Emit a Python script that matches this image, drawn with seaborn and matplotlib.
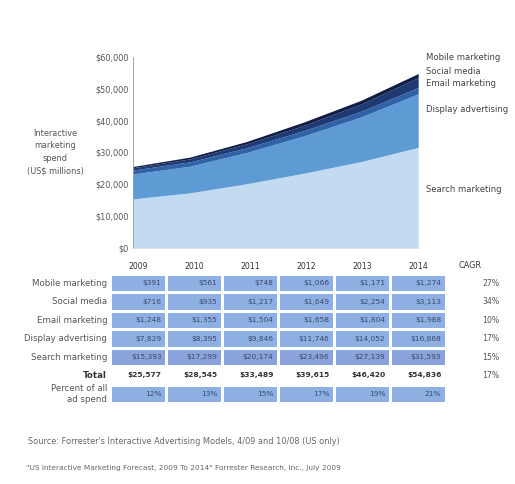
import matplotlib
matplotlib.use("Agg")
import matplotlib.pyplot as plt
import numpy as np
import pandas as pd
import seaborn as sns
from matplotlib.colors import ListedColormap

# ---- data (US$ millions) ---- #
years = [2009, 2010, 2011, 2012, 2013, 2014]
search = [15393, 17299, 20174, 23496, 27139, 31593]
display = [7829, 8395, 9846, 11746, 14052, 16868]
email = [1248, 1355, 1504, 1658, 1804, 1988]
social = [716, 935, 1217, 1649, 2254, 3113]
mobile = [391, 561, 748, 1066, 1171, 1274]
total = [25577, 28545, 33489, 39615, 46420, 54836]
pct_of_ad_spend = [12, 13, 15, 17, 19, 21]
cagr = ["27%", "34%", "10%", "17%", "15%", "17%"]

series_colors = ["#c3dbf1", "#5e9bd5", "#2f62a6", "#1f3a72", "#121d45"]
y_ticks = [0, 10000, 20000, 30000, 40000, 50000, 60000]

sns.set_theme(style="white")
plt.rcParams["font.family"] = ["DejaVu Sans"]
TXT = "#555555"

fig = plt.figure(figsize=(5.15, 4.84), dpi=100)
fig.patch.set_facecolor("white")

# ---- stacked area chart ---- #
ax = fig.add_axes([0.258, 0.488, 0.554, 0.394])
ax.stackplot(years, search, display, email, social, mobile,
             colors=series_colors, linewidth=0)
ax.set_xlim(2009, 2014)
ax.set_ylim(0, 60000)
ax.set_yticks(y_ticks)
ax.set_yticklabels([f"${v:,}" for v in y_ticks], fontsize=5.9, color=TXT)
ax.set_xticks([])
ax.tick_params(axis="y", length=0, pad=3)
for side in ["top", "right"]:
    ax.spines[side].set_visible(False)
ax.spines["left"].set_color("#999999")
ax.spines["left"].set_linewidth(0.6)
ax.spines["bottom"].set_color("#dddddd")
ax.spines["bottom"].set_linewidth(0.6)
ax.set_facecolor("white")

fig.text(55 / 515, 1 - 152 / 484, "Interactive\nmarketing\nspend\n(US$ millions)",
         ha="center", va="center", fontsize=5.9, color=TXT, linespacing=1.5)

right_labels = [("Mobile marketing", 58), ("Social media", 71),
                ("Email marketing", 84), ("Display advertising", 110),
                ("Search marketing", 190)]
for lbl, ypx in right_labels:
    fig.text(426 / 515, 1 - ypx / 484, lbl, ha="left", va="center",
             fontsize=6.1, color="#444444")

# ---- data table drawn as a heatmap ---- #
row_labels = ["Mobile marketing", "Social media", "Email marketing",
              "Display advertising", "Search marketing", "Total",
              "Percent of all\nad spend"]
rows = [mobile, social, email, display, search, total, pct_of_ad_spend]
annot = [[f"${v:,}" for v in r] for r in rows[:6]]
annot.append([f"{v}%" for v in pct_of_ad_spend])
annot = np.array(annot)
# colour code: 0 = table blue, 1 = search row blue, 2 = white (total row)
codes = pd.DataFrame([[0] * 6] * 4 + [[1] * 6] + [[2] * 6] + [[0] * 6],
                     index=row_labels, columns=years)

tax = fig.add_axes([0.2136, 0.167, 0.652, 0.267])
sns.heatmap(codes, ax=tax, cmap=ListedColormap(["#8eafe2", "#8aa3da", "#ffffff"]),
            vmin=-0.5, vmax=2.5, cbar=False, annot=annot, fmt="",
            annot_kws={"fontsize": 5.4, "color": "#3b4a6b", "ha": "right"},
            linewidths=1.0, linecolor="white")
# push annotations to the right edge of each cell
for t in tax.texts:
    x, y = t.get_position()
    t.set_position((x + 0.42, y))
for t in tax.texts[30:36]:
    t.set_color("#333333")
    t.set_fontweight("bold")

tax.xaxis.tick_top()
tax.set_xticklabels(years, fontsize=5.6, color="#333333")
tax.set_yticklabels(row_labels, fontsize=6.2, color=TXT, rotation=0)
tax.get_yticklabels()[5].set_fontweight("bold")
tax.get_yticklabels()[5].set_color("#333333")
tax.tick_params(length=0, pad=2)
tax.set_xlabel("")
tax.set_ylabel("")

# CAGR column
fig.text(470 / 515, 1 - 265 / 484, "CAGR", ha="center", va="center",
         fontsize=5.9, color="#333333")
for i, c in enumerate(cagr):
    tax.text(6.8, i + 0.5, c, ha="center", va="center", fontsize=5.6,
             color=TXT, clip_on=False)

# ---- source lines ---- #
fig.text(28 / 515, 1 - 441 / 484,
         "Source: Forrester's Interactive Advertising Models, 4/09 and 10/08 (US only)",
         ha="left", va="center", fontsize=5.9, color="#666666")
fig.text(26 / 515, 1 - 468 / 484,
         "\"US Interactive Marketing Forecast, 2009 To 2014\" Forrester Research, Inc., July 2009",
         ha="left", va="center", fontsize=5.3, color="#666666")

fig.savefig("out.png", dpi=100)
